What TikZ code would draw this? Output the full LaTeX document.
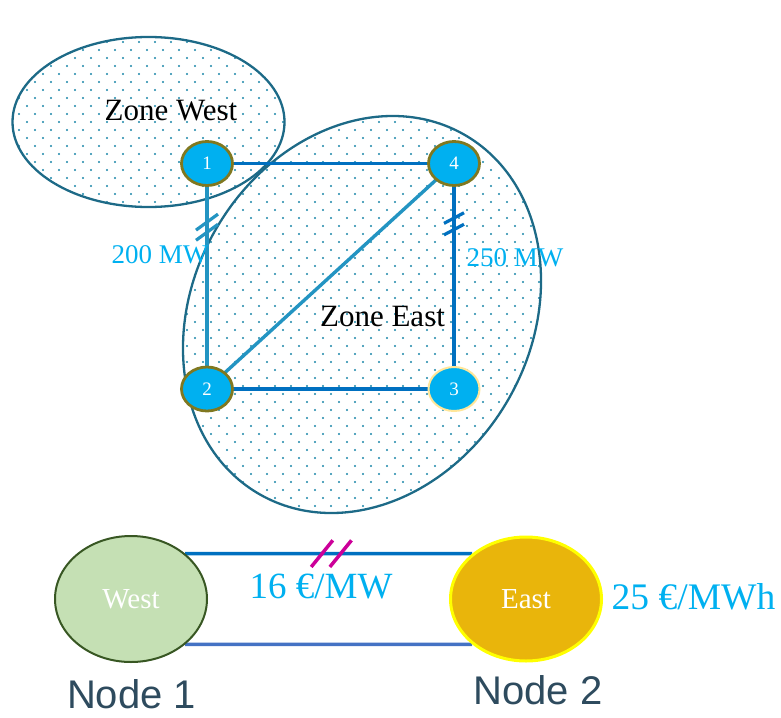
\documentclass[tikz,border=0pt]{standalone}
\usepackage{fontspec}
\setmainfont{Liberation Serif}
\newfontfamily\arialf{Liberation Sans}
\usetikzlibrary{shapes.geometric,backgrounds}
\definecolor{zoneline}{HTML}{1D6A87}
\definecolor{dotcol}{HTML}{1A86A8}
\definecolor{busfill}{HTML}{00B0F0}
\definecolor{busborder}{HTML}{807820}
\definecolor{busborderlight}{HTML}{FFE699}
\definecolor{lblcol}{HTML}{00B0F0}
\definecolor{lineblue}{HTML}{0070C0}
\definecolor{lineteal}{HTML}{2394C2}
\definecolor{linelight}{HTML}{4472C4}
\definecolor{westfill}{HTML}{C5E0B4}
\definecolor{westborder}{HTML}{385723}
\definecolor{eastfill}{HTML}{E9B50B}
\definecolor{eastborder}{HTML}{FFFF00}
\definecolor{brkmag}{HTML}{CC0099}
\definecolor{nodetxt}{HTML}{2E4B5E}
\begin{document}
\begin{tikzpicture}[x=1pt,y=1pt,
  zone/.style={draw=zoneline, line width=2.3},
  bus/.style={ellipse, fill=busfill, draw=busborder, line width=2.8, minimum width=51, minimum height=44, inner sep=0, text=white, font=\fontsize{19}{19}\selectfont},
  conn/.style={line width=3.4},
  brk/.style={line width=3.2},
  lbl/.style={text=lblcol, inner sep=0, anchor=base},
  zonetxt/.style={inner sep=0, anchor=base, font=\fontsize{31}{31}\selectfont},
  bignode/.style={ellipse, inner sep=0, text=white, font=\fontsize{29}{29}\selectfont},
  nodename/.style={inner sep=0, anchor=base, text=nodetxt, font=\arialf\fontsize{40}{40}\selectfont}
]
\useasboundingbox (0,0) rectangle (781,-717);

% zones
\begin{scope}[on background layer]
  \begin{scope}
    \clip (148.5,-122) ellipse [x radius=136, y radius=85];
    \fill[dotcol] \foreach \j in {4,...,27}{\foreach \i in {0,...,18}{({\i*16+8*mod(\j,2)+3},{-\j*8-2}) circle (1.2)}};
  \end{scope}
  \begin{scope}
    \clip[rotate around={60.6:(362,-314.5)}] (362,-314.5) ellipse [x radius=206.9, y radius=169.2];
    \fill[dotcol] \foreach \j in {14,...,65}{\foreach \i in {11,...,34}{({\i*16+8*mod(\j,2)+3},{-\j*8-2}) circle (1.2)}};
  \end{scope}
  \draw[zone] (148.5,-122) ellipse [x radius=136, y radius=85];
  \draw[zone, rotate around={60.6:(362,-314.5)}] (362,-314.5) ellipse [x radius=206.9, y radius=169.2];
\end{scope}

\node[zonetxt] (zw) at (171,-120) {Zone West};
\node[zonetxt] (ze) at (382.5,-326) {Zone East};

% buses
\node[bus] (n1) at (207,-163.5) {1};
\node[bus] (n4) at (454,-163.5) {4};
\node[bus] (n2) at (207,-389) {2};
\node[bus, draw=busborderlight, line width=2] (n3) at (454,-389) {3};

\begin{scope}[on background layer]
  \draw[conn, lineblue] (n1.center) -- (n4.center);
  \draw[conn, lineteal] (n1.center) -- (n2.center);
  \draw[conn, lineteal] (n2.center) -- (n4.center);
  \draw[conn, lineblue] (n2.center) -- (n3.center);
  \draw[conn, lineblue] (n4.center) -- (n3.center);
\end{scope}

% break marks
\path (n1.center) -- (n2.center) coordinate[pos=0.26] (b1) coordinate[pos=0.305] (b2);
\draw[brk, lineteal] ([shift={(-11,-8)}]b1) -- ([shift={(11,8)}]b1);
\draw[brk, lineteal] ([shift={(-11,-8)}]b2) -- ([shift={(11,8)}]b2);
\path (n4.center) -- (n3.center) coordinate[pos=0.242] (b3) coordinate[pos=0.293] (b4);
\draw[brk, lineblue] ([shift={(-10,-5.3)}]b3) -- ([shift={(10,5.3)}]b3);
\draw[brk, lineblue] ([shift={(-10,-5.3)}]b4) -- ([shift={(10,5.3)}]b4);

\node[lbl, font=\fontsize{27}{27}\selectfont] (l200) at (160,-263) {200 MW};
\node[lbl, font=\fontsize{27}{27}\selectfont] (l250) at (515,-266.5) {250 MW};

% bottom part
\node[bignode, fill=westfill, draw=westborder, line width=2, minimum width=152, minimum height=126] (W) at (131,-599) {West};
\node[bignode, fill=eastfill, draw=eastborder, line width=3, minimum width=151, minimum height=124] (E) at (526,-599) {East};

\begin{scope}[on background layer]
  \draw[line width=3.5, lineblue] (W.40) -- (E.140) coordinate[pos=0.477] (m1) coordinate[pos=0.542] (m2);
  \draw[line width=3.5, linelight] (W.-40) -- (E.-140);
\end{scope}
\draw[brk, brkmag, line width=3.5] ([shift={(-10.8,-13.3)}]m1) -- ([shift={(10.8,13.3)}]m1);
\draw[brk, brkmag, line width=3.5] ([shift={(-10.8,-13.3)}]m2) -- ([shift={(10.8,13.3)}]m2);

\node[lbl, font=\fontsize{37}{37}\selectfont] (p16) at (321,-598) {16 €/MW};
\node[lbl, font=\fontsize{37.5}{37.5}\selectfont] (p25) at (693.5,-609) {25 €/MWh};

\node[nodename] (nn1) at (131.5,-708) {Node 1};
\node[nodename] (nn2) at (538,-704) {Node 2};
\end{tikzpicture}
\end{document}
